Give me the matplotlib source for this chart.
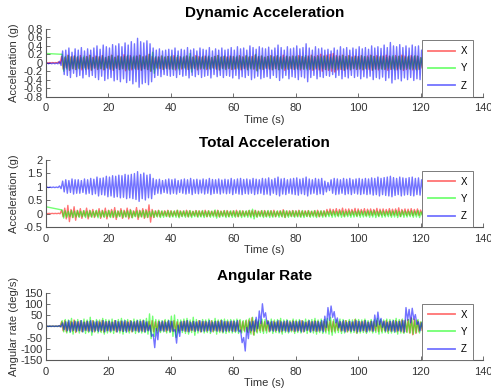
import numpy as np
import matplotlib
matplotlib.use("Agg")
import matplotlib.pyplot as plt
from matplotlib.ticker import FuncFormatter
from matplotlib.lines import Line2D

plt.rcParams["font.family"] = ["Liberation Sans", "DejaVu Sans"]

nan = np.nan
channels = ["X", "Y", "Z"]

# half-swing of each trace, one value per second (t = 0..120 s)
dyn_x_amp = [0.005, 0.005, 0.005, 0.005, 0.02, 0.15, 0.12, 0.18, 0.14, 0.16,
             0.13, 0.17, 0.12, 0.15, 0.18, 0.13, 0.16, 0.14, 0.17, 0.12,
             0.15, 0.18, 0.13, 0.16, 0.14, 0.19, 0.15, 0.17, 0.13, 0.16,
             0.18, 0.14, 0.16, 0.2, 0.15, 0.12, 0.14, 0.16, 0.13, 0.15,
             0.14, 0.17, 0.13, 0.15, 0.12, 0.16, 0.14, 0.13, 0.17, 0.15,
             0.13, 0.16, 0.14, 0.12, 0.15, 0.17, 0.13, 0.15, 0.14, 0.16,
             0.15, 0.13, 0.17, 0.14, 0.16, 0.13, 0.15, 0.18, 0.14, 0.16,
             0.13, 0.15, 0.17, 0.14, 0.16, 0.13, 0.18, 0.15, 0.14, 0.16,
             0.14, 0.17, 0.15, 0.13, 0.16, 0.18, 0.15, 0.17, 0.2, 0.16,
             0.18, 0.2, 0.22, 0.17, 0.16, 0.18, 0.15, 0.17, 0.14, 0.16,
             0.15, 0.17, 0.14, 0.16, 0.18, 0.15, 0.17, 0.14, 0.16, 0.18,
             0.16, 0.14, 0.17, 0.15, 0.18, 0.16, 0.14, 0.17, 0.15, 0.16,
             0.12]
dyn_y_amp = [nan, nan, nan, nan, nan, 0.2, 0.15, 0.17, 0.14, 0.16,
             0.15, 0.13, 0.16, 0.14, 0.17, 0.12, 0.15, 0.14, 0.16, 0.13,
             0.15, 0.17, 0.13, 0.16, 0.14, 0.15, 0.18, 0.14, 0.16, 0.15,
             0.17, 0.14, 0.16, 0.2, 0.25, 0.15, 0.13, 0.16, 0.14, 0.15,
             0.16, 0.14, 0.17, 0.13, 0.15, 0.16, 0.22, 0.14, 0.15, 0.13,
             0.15, 0.14, 0.16, 0.13, 0.15, 0.17, 0.14, 0.16, 0.13, 0.15,
             0.14, 0.16, 0.15, 0.13, 0.17, 0.15, 0.14, 0.2, 0.15, 0.16,
             0.13, 0.15, 0.16, 0.14, 0.17, 0.15, 0.13, 0.16, 0.14, 0.15,
             0.16, 0.14, 0.15, 0.17, 0.14, 0.16, 0.13, 0.15, 0.14, 0.16,
             0.15, 0.13, 0.16, 0.14, 0.15, 0.17, 0.14, 0.16, 0.13, 0.15,
             0.14, 0.16, 0.15, 0.13, 0.17, 0.15, 0.14, 0.16, 0.15, 0.13,
             0.15, 0.17, 0.14, 0.16, 0.15, 0.13, 0.16, 0.14, 0.17, 0.15,
             0.12]
dyn_z_amp = [0.01, 0.01, 0.01, 0.01, 0.05, 0.28, 0.3, 0.35, 0.25, 0.33,
             0.3, 0.36, 0.28, 0.33, 0.3, 0.35, 0.4, 0.32, 0.42, 0.38,
             0.35, 0.43, 0.4, 0.45, 0.38, 0.47, 0.42, 0.5, 0.45, 0.58,
             0.5, 0.47, 0.52, 0.45, 0.35, 0.3, 0.33, 0.28, 0.3, 0.32,
             0.3, 0.35, 0.28, 0.32, 0.3, 0.36, 0.3, 0.33, 0.28, 0.35,
             0.32, 0.3, 0.36, 0.28, 0.33, 0.3, 0.35, 0.3, 0.32, 0.36,
             0.3, 0.38, 0.33, 0.35, 0.3, 0.4, 0.36, 0.32, 0.38, 0.35,
             0.33, 0.37, 0.3, 0.35, 0.42, 0.36, 0.3, 0.38, 0.33, 0.35,
             0.4, 0.33, 0.36, 0.45, 0.35, 0.3, 0.38, 0.33, 0.35, 0.3,
             0.32, 0.28, 0.35, 0.3, 0.38, 0.33, 0.36, 0.3, 0.35, 0.32,
             0.38, 0.33, 0.36, 0.32, 0.4, 0.35, 0.38, 0.34, 0.42, 0.36,
             0.48, 0.4, 0.38, 0.43, 0.36, 0.4, 0.35, 0.42, 0.38, 0.4,
             0.3]

tot_x_amp = [0.005, 0.005, 0.005, 0.005, 0.01, 0.12, 0.2, 0.3, 0.15, 0.25,
             0.12, 0.18, 0.1, 0.2, 0.12, 0.15, 0.1, 0.18, 0.12, 0.2,
             0.12, 0.15, 0.22, 0.1, 0.18, 0.12, 0.2, 0.15, 0.1, 0.22,
             0.12, 0.18, 0.15, 0.32, 0.15, 0.1, 0.12, 0.08, 0.1, 0.12,
             0.1, 0.08, 0.12, 0.1, 0.09, 0.12, 0.1, 0.08, 0.11, 0.1,
             0.09, 0.12, 0.1, 0.08, 0.1, 0.12, 0.09, 0.1, 0.11, 0.08,
             0.1, 0.12, 0.09, 0.1, 0.08, 0.11, 0.1, 0.12, 0.09, 0.1,
             0.11, 0.09, 0.1, 0.12, 0.08, 0.1, 0.14, 0.09, 0.1, 0.11,
             0.1, 0.12, 0.09, 0.1, 0.11, 0.08, 0.1, 0.12, 0.09, 0.1,
             0.1, 0.12, 0.1, 0.13, 0.1, 0.15, 0.11, 0.12, 0.1, 0.14,
             0.12, 0.1, 0.13, 0.11, 0.12, 0.1, 0.14, 0.11, 0.12, 0.1,
             0.13, 0.11, 0.12, 0.16, 0.1, 0.12, 0.11, 0.13, 0.1, 0.12,
             0.08]
tot_y_amp = [nan, nan, nan, nan, nan, 0.15, 0.12, 0.1, 0.13, 0.11,
             0.12, 0.1, 0.13, 0.11, 0.12, 0.1, 0.14, 0.11, 0.12, 0.1,
             0.13, 0.11, 0.12, 0.1, 0.13, 0.11, 0.12, 0.14, 0.1, 0.12,
             0.11, 0.13, 0.12, 0.1, 0.12, 0.11, 0.13, 0.12, 0.1, 0.12,
             0.11, 0.12, 0.14, 0.1, 0.12, 0.11, 0.13, 0.1, 0.12, 0.11,
             0.13, 0.1, 0.12, 0.11, 0.15, 0.12, 0.1, 0.13, 0.11, 0.12,
             0.12, 0.1, 0.13, 0.11, 0.12, 0.14, 0.18, 0.12, 0.1, 0.13,
             0.11, 0.13, 0.12, 0.1, 0.12, 0.11, 0.13, 0.12, 0.1, 0.12,
             0.11, 0.12, 0.13, 0.1, 0.12, 0.11, 0.13, 0.1, 0.12, 0.11,
             0.1, 0.12, 0.11, 0.1, 0.12, 0.11, 0.1, 0.12, 0.11, 0.1,
             0.12, 0.11, 0.1, 0.12, 0.11, 0.13, 0.1, 0.12, 0.11, 0.1,
             0.12, 0.11, 0.13, 0.1, 0.12, 0.11, 0.1, 0.12, 0.11, 0.13,
             0.08]
tot_z_amp = [0.01, 0.01, 0.01, 0.01, 0.05, 0.2, 0.25, 0.22, 0.28, 0.25,
             0.25, 0.22, 0.28, 0.25, 0.3, 0.27, 0.35, 0.3, 0.32, 0.38,
             0.35, 0.4, 0.38, 0.42, 0.4, 0.45, 0.42, 0.45, 0.48, 0.55,
             0.45, 0.5, 0.42, 0.45, 0.3, 0.25, 0.27, 0.22, 0.25, 0.28,
             0.25, 0.28, 0.22, 0.25, 0.28, 0.25, 0.3, 0.25, 0.27, 0.24,
             0.28, 0.25, 0.3, 0.26, 0.25, 0.28, 0.24, 0.27, 0.25, 0.3,
             0.25, 0.28, 0.3, 0.26, 0.28, 0.25, 0.3, 0.27, 0.25, 0.3,
             0.28, 0.32, 0.25, 0.3, 0.35, 0.28, 0.3, 0.25, 0.28, 0.3,
             0.32, 0.27, 0.3, 0.35, 0.28, 0.25, 0.3, 0.27, 0.3, 0.2,
             0.15, 0.25, 0.3, 0.28, 0.25, 0.3, 0.27, 0.3, 0.25, 0.28,
             0.3, 0.27, 0.3, 0.28, 0.32, 0.3, 0.35, 0.3, 0.33, 0.35,
             0.38, 0.33, 0.3, 0.35, 0.32, 0.3, 0.33, 0.35, 0.3, 0.32,
             0.25]

ang_x_amp = [1, 1, 1, 1, 2, 20, 25, 18, 22, 28,
             20, 24, 18, 22, 20, 25, 18, 22, 26, 20,
             22, 18, 25, 20, 23, 19, 22, 25, 18, 22,
             20, 24, 18, 22, 25, 20, 22, 18, 24, 20,
             22, 25, 20, 18, 22, 24, 20, 22, 18, 25,
             20, 22, 18, 24, 20, 22, 25, 19, 22, 20,
             22, 18, 25, 20, 24, 28, 38, 25, 20, 22,
             20, 24, 18, 22, 20, 25, 18, 22, 20, 24,
             22, 20, 25, 18, 22, 20, 24, 22, 18, 22,
             20, 25, 22, 18, 22, 20, 25, 22, 18, 30,
             22, 20, 25, 18, 22, 20, 24, 22, 20, 25,
             22, 20, 25, 22, 28, 25, 30, 38, 32, 25,
             18]
ang_y_amp = [1, 1, 1, 1, 2, 25, 30, 28, 35, 25,
             30, 25, 32, 28, 40, 25, 30, 28, 35, 30,
             28, 32, 25, 30, 35, 28, 30, 25, 32, 28,
             30, 28, 35, 55, 45, 30, 28, 25, 30, 28,
             45, 50, 30, 28, 32, 35, 28, 40, 30, 25,
             30, 28, 32, 25, 35, 28, 30, 32, 28, 30,
             28, 32, 30, 25, 28, 35, 40, 30, 28, 32,
             30, 25, 32, 28, 30, 35, 28, 30, 25, 32,
             28, 30, 25, 32, 28, 30, 35, 28, 32, 30,
             35, 40, 30, 28, 32, 30, 25, 30, 28, 32,
             30, 28, 32, 25, 30, 28, 35, 30, 28, 32,
             30, 28, 35, 30, 32, 28, 30, 35, 28, 30,
             20]
ang_z_amp = [1, 1, 1, 1, 3, 15, 20, 25, 18, 22,
             20, 25, 18, 22, 25, 20, 23, 18, 25, 20,
             22, 18, 25, 20, 23, 25, 18, 22, 20, 25,
             22, 25, 20, 25, 30, 25, 20, 22, 18, 25,
             22, 30, 25, 20, 22, 25, 18, 22, 20, 24,
             22, 20, 25, 18, 22, 20, 25, 22, 20, 23,
             22, 25, 28, 30, 25, 20, 22, 25, 28, 30,
             25, 20, 22, 18, 25, 20, 22, 25, 18, 22,
             20, 25, 22, 18, 25, 20, 22, 20, 25, 25,
             28, 25, 25, 22, 20, 25, 18, 22, 20, 25,
             22, 20, 25, 18, 22, 25, 28, 20, 22, 18,
             22, 25, 20, 22, 25, 28, 30, 25, 22, 20,
             15]
# slow excursions of the Z rate (second, deg/s)
ang_z_shift_t = [33, 34, 35, 41, 42, 62, 63, 64, 67, 68, 69, 70,
                 89, 90, 91, 92, 93, 105, 106, 107, 115, 116, 117, 118]
ang_z_shift_v = [-20, -65, -35, -45, -20, -45, -80, -30, 15, 40, 70, 35,
                 20, 55, 65, 40, 15, 25, 35, 15, 55, 45, 55, 30]

# first sample of Y before the recording gap, and centre levels (from second, value)
dyn_y_first = 0.22
tot_y_first = 0.25
dyn_levels = [[(0, 0.0)], [(0, 0.0)], [(0, -0.015), (5, 0.0)]]
tot_levels = [[(0, 0.0), (90, 0.05)], [(0, 0.0), (5, -0.02)], [(0, 0.97), (5, 1.0)]]
ang_levels = [[(0, 0.0)], [(0, 0.0)], [(0, 0.0)]]


def band(amps, levels, phase=0.0, first=None, shift_t=(), shift_v=()):
    """Peak at t, trough at t+0.5 around the centre line."""
    a = np.asarray(amps, float)
    t = np.arange(len(a), dtype=float)
    c = np.zeros(len(a))
    for t0, lev in levels:
        c[t >= t0] = lev
    for ts, v in zip(shift_t, shift_v):
        c[int(ts)] += v
    tt = np.column_stack([t + phase, t + phase + 0.5]).ravel()
    yy = np.column_stack([c + a, c - a]).ravel()
    keep = ~np.isnan(yy)
    tt, yy = tt[keep], yy[keep]
    if first is not None:
        tt = np.r_[0.0, tt]
        yy = np.r_[first, yy]
    return tt, yy


colors = [(1, 0, 0), (0, 1, 0), (0, 0, 1)]
phases = [0.0, 0.17, 0.33]

panels = [
    ("Dynamic Acceleration", "Acceleration (g)", [dyn_x_amp, dyn_y_amp, dyn_z_amp],
     dyn_levels, [None, dyn_y_first, None], (-0.8, 0.8), np.arange(-0.8, 0.81, 0.2)),
    ("Total Acceleration", "Acceleration (g)", [tot_x_amp, tot_y_amp, tot_z_amp],
     tot_levels, [None, tot_y_first, None], (-0.5, 2), np.arange(-0.5, 2.01, 0.5)),
    ("Angular Rate", "Angular rate (deg/s)", [ang_x_amp, ang_y_amp, ang_z_amp],
     ang_levels, [None, None, None], (-150, 150), np.arange(-150, 151, 50)),
]
bottoms = [0.7538, 0.4209, 0.0816]

fig = plt.figure(figsize=(4.91, 3.92), dpi=100)
fmt = FuncFormatter(lambda v, p: f"{round(v, 6) + 0:g}")

for k, (title, ylab, amps, levels, firsts, ylim, yt) in enumerate(panels):
    ax = fig.add_axes([0.0937, bottoms[k], 0.890, 0.1722])
    for i, ch in enumerate(channels):
        st, sv = ((ang_z_shift_t, ang_z_shift_v) if (k == 2 and ch == "Z") else ((), ()))
        t, y = band(amps[i], levels[i], phases[i], firsts[i], st, sv)
        ax.plot(t, y, color=colors[i], alpha=0.55, lw=1.0)
    ax.set_xlim(0, 140)
    ax.set_ylim(*ylim)
    ax.set_xticks(np.arange(0, 141, 20))
    ax.set_yticks(yt)
    ax.yaxis.set_major_formatter(fmt)
    for s in ["top", "right"]:
        ax.spines[s].set_visible(False)
    for s in ["left", "bottom"]:
        ax.spines[s].set_color("0.35")
        ax.spines[s].set_linewidth(0.8)
    ax.tick_params(direction="in", length=3, width=0.6, colors="0.35",
                   labelcolor="0.2", labelsize=8)
    ax.tick_params(axis="x", pad=5)
    ax.tick_params(axis="y", pad=2.5)
    ax.set_title(title, fontsize=11, fontweight="bold", pad=9)
    ax.set_xlabel("Time (s)", fontsize=8, color="0.2", labelpad=1)
    ax.set_ylabel(ylab, fontsize=8, color="0.2")
    ax.yaxis.set_label_coords(-0.062, 0.5)
    handles = [Line2D([], [], color=colors[i], alpha=0.55, lw=1.3) for i in range(3)]
    leg = ax.legend(handles, channels, loc="lower left", bbox_to_anchor=(0.86, 0.0),
                    fontsize=7, handlelength=2.8, labelspacing=0.75, borderpad=0.6,
                    handletextpad=0.6, fancybox=False, framealpha=1,
                    edgecolor="0.4", borderaxespad=0)
    leg.get_frame().set_linewidth(0.6)

fig.savefig("out.png", dpi=100)
